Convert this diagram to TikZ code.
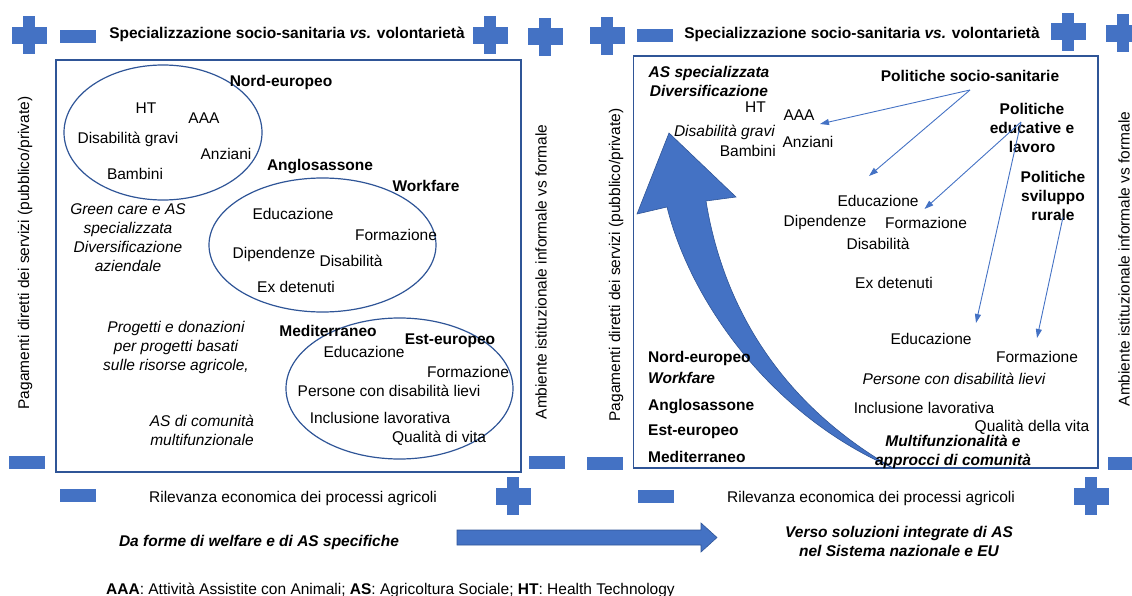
\documentclass[tikz,border=0pt]{standalone}
\usepackage{fontspec}
\setmainfont{Liberation Sans}
\usetikzlibrary{arrows.meta}
\definecolor{signblue}{HTML}{4472C4}
\definecolor{edgeblue}{HTML}{2F5597}
\tikzstyle{sign}     = [fill=signblue]
\tikzstyle{panel}    = [draw=edgeblue, line width=1.5pt]
\tikzstyle{cluster}  = [draw=edgeblue, line width=1.2pt]
\tikzstyle{link}     = [draw=signblue, line width=0.9pt, -{Triangle[length=9pt,width=6pt]}]
\tikzstyle{bigarrow} = [fill=signblue, draw=edgeblue, line width=0.6pt]
\tikzstyle{txt}      = [inner sep=0pt, font=\fontsize{15.5}{19}\selectfont]
\tikzstyle{one}      = [txt, text height=11.5pt, text depth=3pt]
\tikzstyle{hd}       = [one, font=\fontsize{15.5}{19}\selectfont\bfseries]

\begin{document}
\begin{tikzpicture}[x=1pt,y=-1pt]
    \useasboundingbox (0,0) rectangle (1132,596);
    \clip (0,0) rectangle (1132,596);
    % plus and minus signs
    \foreach \px/\py in {29/35.5, 490/35.5, 545/37, 607/36, 1068/32, 1123/33.5, 513/496, 1091/496} {
      \fill[sign] (\px-6,\py-19) rectangle ++(12,38);
      \fill[sign] (\px-17.5,\py-8.5) rectangle ++(35,17);
    }
    \foreach \mx/\my in {78/36.5, 655/35.5, 27/462.5, 547/462.5, 604.5/463, 1126/463, 78/495.5, 655.5/496} {
      \fill[sign] (\mx-18,\my-6.5) rectangle ++(36,13);
    }
    \draw[panel] (56,60) rectangle (521,472);
    \draw[panel] (633.5,56) rectangle (1098,468);

    % left panel
    \node[hd] (titleL) at (287,34) {Specializzazione socio-sanitaria \textit{vs.} volontarietà};
    \node[txt, rotate=90] (payL) at (25,253) {Pagamenti diretti dei servizi (pubblico/private)};
    \node[txt, rotate=90] (envL) at (541,272) {Ambiente istituzionale informale vs formale};
    \node[one] (relL) at (293,498) {Rilevanza economica dei processi agricoli};
    \draw[cluster] (163,132.5) ellipse [x radius=99, y radius=67.5];
    \draw[cluster] (322.5,245) ellipse [x radius=113.5, y radius=67];
    \draw[cluster] (399.5,388.5) ellipse [x radius=113.5, y radius=70.5];
    \node[hd] (nord) at (281,82) {Nord-europeo};
    \node[one] (ht) at (146,109) {HT};
    \node[one] (aaa) at (204,119) {AAA};
    \node[one] (disgr) at (128,139) {Disabilità gravi};
    \node[one] (anz) at (226,155) {Anziani};
    \node[one] (bamb) at (135,175) {Bambini};
    \node[hd] (anglo) at (320,166) {Anglosassone};
    \node[hd] (work) at (426,187) {Workfare};
    \node[txt, align=center, font=\fontsize{15.5}{19}\selectfont\itshape] (green) at (128,238)
      {Green care e AS\\specializzata\\Diversificazione\\aziendale};
    \node[one] (edu) at (293,215) {Educazione};
    \node[one] (form) at (396,236) {Formazione};
    \node[one] (dip) at (274,254) {Dipendenze};
    \node[one] (dis) at (351,262) {Disabilità};
    \node[one] (exdet) at (296,288) {Ex detenuti};
    \node[txt, align=center, font=\fontsize{15.5}{19}\selectfont\itshape] (progetti) at (176,347)
      {Progetti e donazioni\\per progetti basati\\sulle risorse agricole,};
    \node[hd] (med) at (328,332) {Mediterraneo};
    \node[hd] (est) at (450,340) {Est-europeo};
    \node[one] (eduB) at (364,353) {Educazione};
    \node[one] (formB) at (468,373) {Formazione};
    \node[one] (pers) at (389,392) {Persone con disabilità lievi};
    \node[one] (incl) at (380,419) {Inclusione lavorativa};
    \node[one] (qual) at (439,438) {Qualità di vita};
    \node[txt, align=center, font=\fontsize{15.5}{19}\selectfont\itshape] (ascom) at (202,430)
      {AS di comunità\\multifunzionale};

    % right panel
    \fill[bigarrow] (893,468) .. controls (770,415) and (690,300) .. (667,207) -- (637,214) -- (669,133)
      -- (736,197) -- (706,201) .. controls (722,300) and (775,400) .. (893,468) -- cycle;
    \node[hd] (titleR) at (862,34) {Specializzazione socio-sanitaria \textit{vs.} volontarietà};
    \node[txt, rotate=90] (payR) at (616,265) {Pagamenti diretti dei servizi (pubblico/private)};
    \node[txt, rotate=90] (envR) at (1124,259) {Ambiente istituzionale informale vs formale};
    \node[one] (relR) at (871,498) {Rilevanza economica dei processi agricoli};
    \node[txt, align=center, font=\fontsize{15.5}{19}\selectfont\bfseries\itshape] (asspec) at (709,81)
      {AS specializzata\\Diversificazione};
    \node[one, anchor=east] (htR) at (766,108) {HT};
    \node[one, anchor=east, font=\fontsize{15.5}{19}\selectfont\itshape] (disgrR) at (775,132) {Disabilità gravi};
    \node[one, anchor=east] (bambR) at (776,152) {Bambini};
    \node[one] (aaaR) at (799,116) {AAA};
    \node[one] (anzR) at (808,143) {Anziani};
    \node[hd] (polsoc) at (970,77) {Politiche socio-sanitarie};
    \node[txt, align=center, font=\fontsize{15.5}{19}\selectfont\bfseries] (poledu) at (1032,128)
      {Politiche\\educative e\\lavoro};
    \node[txt, align=center, font=\fontsize{15.5}{19}\selectfont\bfseries] (polrur) at (1053,196)
      {Politiche\\sviluppo\\rurale};
    \node[one] (eduR) at (878,202) {Educazione};
    \node[one] (dipR) at (825,222) {Dipendenze};
    \node[one] (formR) at (926,224) {Formazione};
    \node[one] (disR) at (878,245) {Disabilità};
    \node[one] (exdetR) at (894,284) {Ex detenuti};
    \node[one] (eduRB) at (931,340) {Educazione};
    \node[one] (formRB) at (1037,358) {Formazione};
    \node[one, font=\fontsize{15.5}{19}\selectfont\itshape] (persR) at (954,380) {Persone con disabilità lievi};
    \node[one] (inclR) at (924,409) {Inclusione lavorativa};
    \node[one] (qualR) at (1032,427) {Qualità della vita};
    \node[txt, align=center, font=\fontsize{15.5}{19}\selectfont\bfseries\itshape] (multi) at (953,452)
      {Multifunzionalità e\\approcci di comunità};
    \node[hd, anchor=west] (nordR) at (648,358) {Nord-europeo};
    \node[hd, anchor=west, font=\fontsize{15.5}{19}\selectfont\bfseries\itshape] (workR) at (648,379) {Workfare};
    \node[hd, anchor=west] (angloR) at (648,406) {Anglosassone};
    \node[hd, anchor=west] (estR) at (648,431) {Est-europeo};
    \node[hd, anchor=west] (medR) at (648,458) {Mediterraneo};

    % policy arrows
    \coordinate (pss) at (970,90);
    \coordinate (pel) at (1021,122);
    \coordinate (psr) at (1063,217);
    \coordinate (toAAA) at (820,124);
    \coordinate (toEdu) at (869,176);
    \coordinate (toForm) at (924.5,209);
    \coordinate (toEduB) at (976,323);
    \coordinate (toFormB) at (1037,338);
    \draw[link] (pss) -- (toAAA);
    \draw[link] (pss) -- (toEdu);
    \draw[link] (pel) -- (toForm);
    \draw[link] (pel) -- (toEduB);
    \draw[link] (psr) -- (toFormB);

    % bottom
    \draw[bigarrow] (457,530) -- (701,530) -- (701,523) -- (717,537.5) -- (701,552) -- (701,545) -- (457,545) -- cycle;
    \node[hd, font=\fontsize{15.5}{19}\selectfont\bfseries\itshape] (daforme) at (259,542)
      {Da forme di welfare e di AS specifiche};
    \node[txt, align=center, font=\fontsize{15.5}{19}\selectfont\bfseries\itshape] (verso) at (899,541)
      {Verso soluzioni integrate di AS\\nel Sistema nazionale e EU};
    \node[one, anchor=west] (note) at (106,590)
      {\textbf{AAA}: Attività Assistite con Animali; \textbf{AS}: Agricoltura Sociale; \textbf{HT}: Health Technology};
\end{tikzpicture}
\end{document}
